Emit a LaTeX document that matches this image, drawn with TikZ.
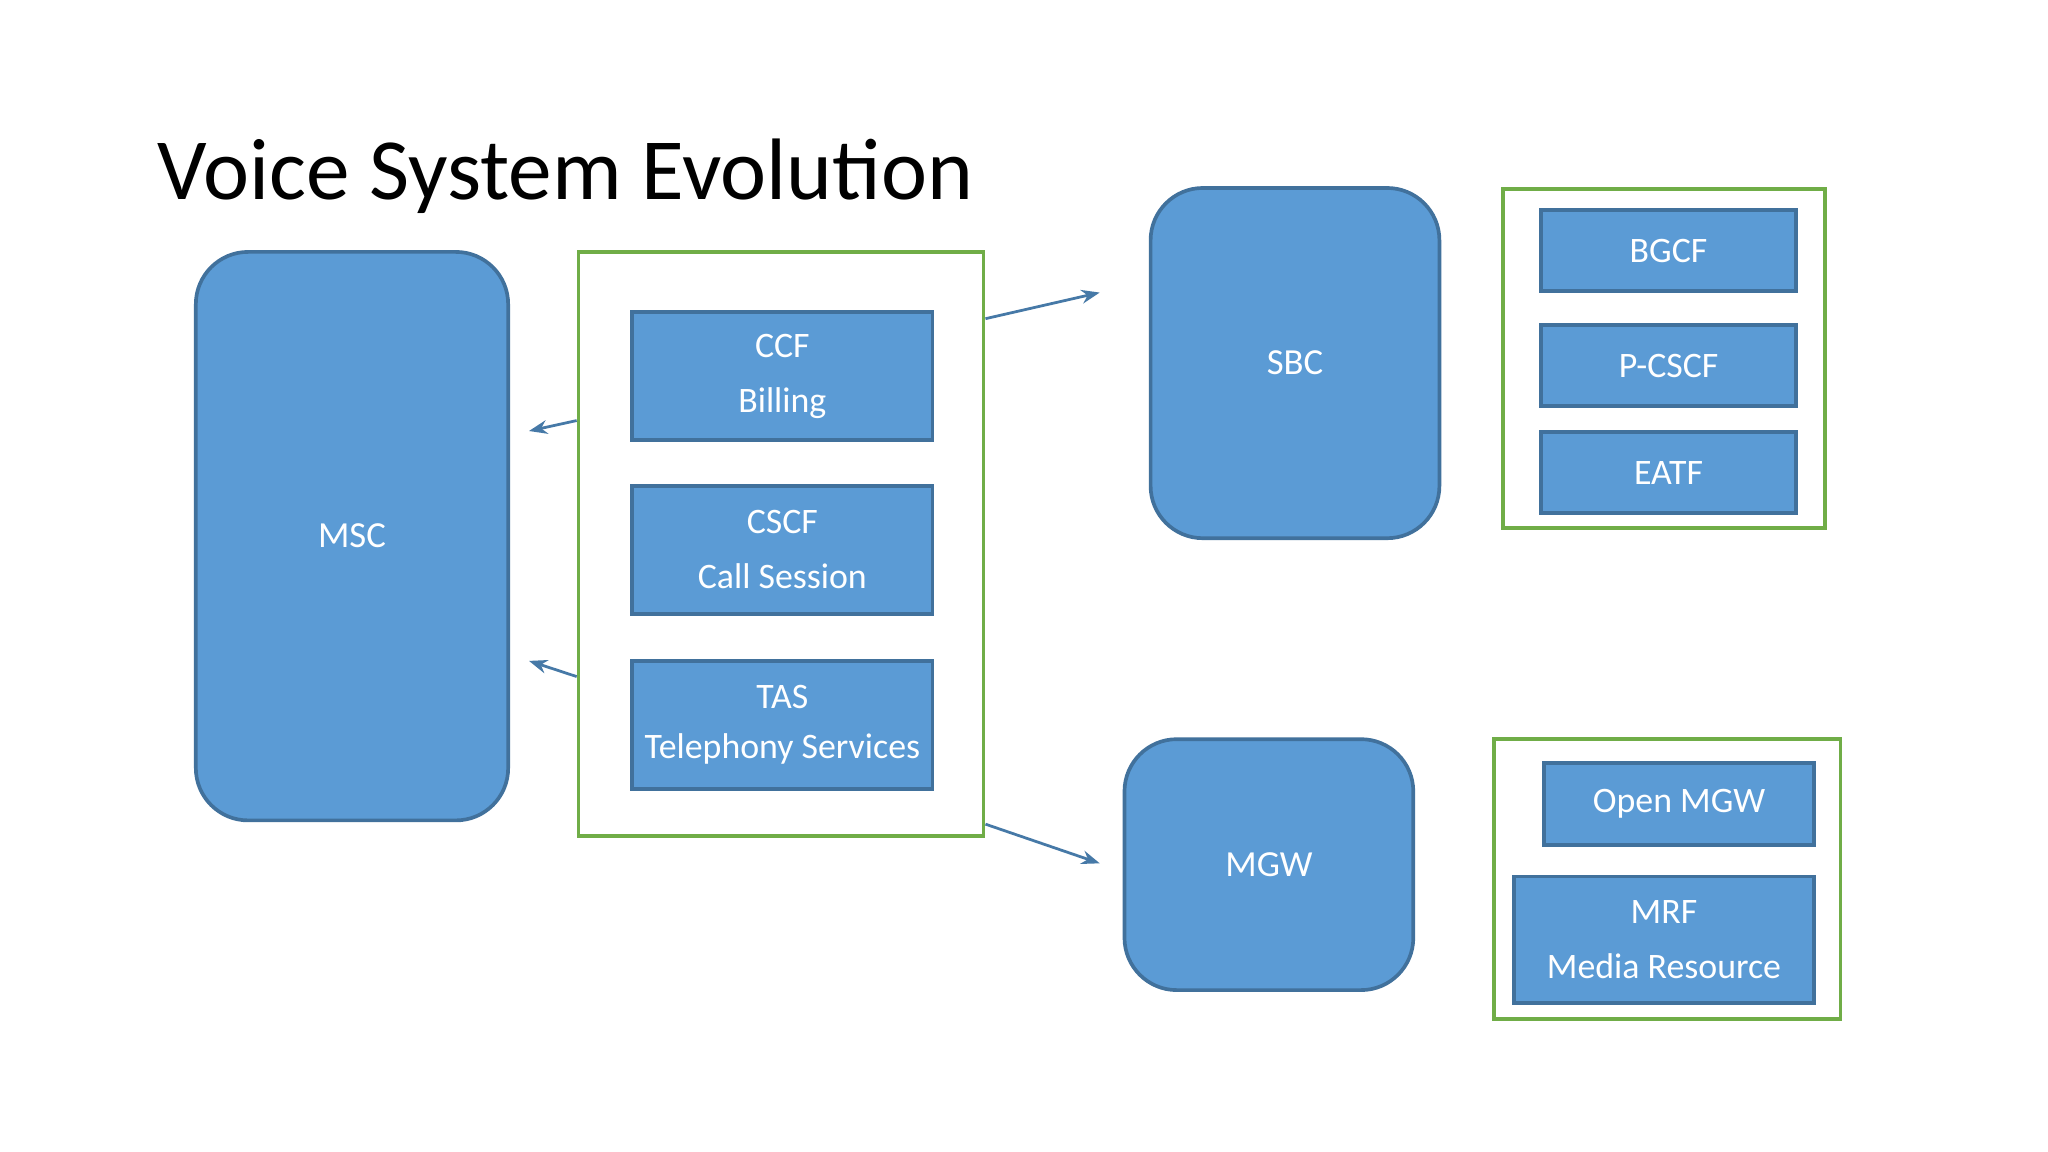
\documentclass[tikz,border=0pt]{standalone}
\usepackage{fontspec}
\setmainfont{Carlito}
\usetikzlibrary{arrows.meta}
\definecolor{bfill}{HTML}{5B9BD5}
\definecolor{bdraw}{HTML}{41719C}
\definecolor{gframe}{HTML}{70AD47}
\begin{document}
\begin{tikzpicture}[x=0.01cm,y=-0.01cm,
  big/.style={draw=bdraw,fill=bfill,rounded corners=0.4cm,line width=0.8pt,text=white,font=\fontsize{8}{10}\selectfont,inner sep=0,align=center},
  box/.style={draw=bdraw,fill=bfill,line width=0.8pt,text=white,font=\fontsize{7.8}{10}\selectfont,inner sep=0,align=center},
  frame/.style={draw=gframe,line width=0.8pt,inner sep=0},
  arr/.style={draw=bdraw!80!bfill,line width=0.6pt,-{Stealth[length=4pt,width=3pt]}}]
\useasboundingbox (0,0) rectangle (1568,882);
\fill[white] (0,0) rectangle (1568,882);
\node[anchor=base west,font=\fontsize{19}{22}\selectfont,inner sep=0] (title) at (120,153) {Voice System Evolution};
\node[big,minimum width=2.39cm,minimum height=4.35cm] (msc) at (269.5,410.5) {MSC};
\node[frame,minimum width=3.10cm,minimum height=4.47cm] (fr1) at (598,416.5) {};
\node[box,minimum width=2.30cm,minimum height=0.98cm] (ccf) at (599,288) {CCF\\[2pt]Billing};
\node[box,minimum width=2.30cm,minimum height=0.98cm] (cscf) at (599,421) {CSCF\\[2pt]Call Session};
\node[box,minimum width=2.30cm,minimum height=0.98cm] (tas) at (599,555) {TAS\\[1pt]Telephony Services};
\node[big,minimum width=2.21cm,minimum height=2.68cm] (sbc) at (991.5,278) {SBC};
\node[frame,minimum width=2.46cm,minimum height=2.59cm] (fr2) at (1274,274.5) {};
\node[box,minimum width=1.95cm,minimum height=0.62cm] (bgcf) at (1277.5,192) {BGCF};
\node[box,minimum width=1.95cm,minimum height=0.62cm] (pcscf) at (1277.5,280) {P-CSCF};
\node[box,minimum width=1.95cm,minimum height=0.62cm] (eatf) at (1277.5,362) {EATF};
\node[big,minimum width=2.21cm,minimum height=1.92cm] (mgw) at (971.5,662) {MGW};
\node[frame,minimum width=2.65cm,minimum height=2.14cm] (fr3) at (1276.5,673) {};
\node[box,minimum width=2.07cm,minimum height=0.63cm] (omgw) at (1285.5,615.5) {Open MGW};
\node[box,minimum width=2.30cm,minimum height=0.97cm] (mrf) at (1274,719.5) {MRF\\[2pt]Media Resource};
\coordinate (a1) at (405,330);
\coordinate (a2) at (405,506);
\coordinate (a3) at (842,224);
\coordinate (a4) at (842,661);
\draw[arr] (fr1.west |- 0,322) -- (a1);
\draw[arr] (fr1.west |- 0,518) -- (a2);
\draw[arr] (fr1.east |- 0,244) -- (a3);
\draw[arr] (fr1.east |- 0,631) -- (a4);
\end{tikzpicture}
\end{document}
